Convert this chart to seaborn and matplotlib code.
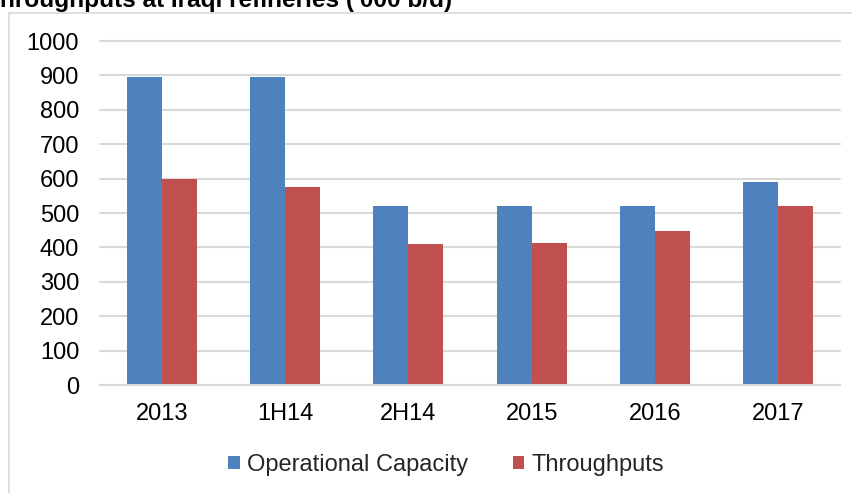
import matplotlib
matplotlib.use("Agg")
import matplotlib.pyplot as plt
from matplotlib.lines import Line2D
from matplotlib.patches import Patch
import seaborn as sns
import pandas as pd

categories = ["2013", "1H14", "2H14", "2015", "2016", "2017"]
operational_capacity = [895, 895, 520, 520, 520, 590]
throughputs = [600, 577, 411, 413, 447, 520]
series_names = ["Operational Capacity", "Throughputs"]
y_ticks = [0, 100, 200, 300, 400, 500, 600, 700, 800, 900, 1000]
title = "Throughputs at Iraqi refineries ('000 b/d)"

df = pd.DataFrame({
    "period": categories * 2,
    "series": [series_names[0]] * len(categories) + [series_names[1]] * len(categories),
    "value": operational_capacity + throughputs,
})

sns.set_theme(style="white")
plt.rcParams["font.family"] = ["Liberation Sans", "DejaVu Sans"]

W, H = 853, 493
fig = plt.figure(figsize=(W / 100, H / 100), dpi=100)
ax = fig.add_axes([100 / W, (H - 385) / H, 740 / W, 344 / H])

colors = {"Operational Capacity": "#4F81BD", "Throughputs": "#C0504D"}
sns.barplot(data=df, x="period", y="value", hue="series", order=categories,
            hue_order=series_names, palette=colors, width=0.57, gap=0,
            linewidth=0, saturation=1, ax=ax, legend=False)

ax.set_ylim(0, 1000)
ax.set_xlim(-0.5, len(categories) - 0.5)
ax.set_yticks(y_ticks)
ax.set_yticklabels([str(v) for v in y_ticks])
ax.grid(axis="y", color="#d9d9d9", linewidth=1.5)
ax.grid(axis="x", visible=False)
ax.set_axisbelow(True)
for s in ["left", "right", "top"]:
    ax.spines[s].set_visible(False)
ax.spines["bottom"].set_color("#d9d9d9")
ax.spines["bottom"].set_linewidth(1.5)
ax.tick_params(axis="y", length=0, pad=15, labelsize=17, colors="black")
ax.tick_params(axis="x", length=0, pad=13, labelsize=17, colors="black")
ax.set_xlabel("")
ax.set_ylabel("")
for gl in ax.get_ygridlines():
    gl.set_clip_on(False)

# legend
handles = [Patch(facecolor=colors[n], edgecolor="none") for n in series_names]
fig.legend(handles, series_names, loc="center", bbox_to_anchor=(446 / W, (H - 465) / H),
           ncol=2, frameon=False, fontsize=17, handlelength=0.5, handleheight=0.5,
           handletextpad=0.3, columnspacing=1.9, borderpad=0)

# title (cropped at left/top as in the reference)
fig.text(-15 / W, (H - 7) / H, title, fontsize=17.6, fontweight="bold",
         ha="left", va="baseline", color="black")

# chart frame lines
fig.add_artist(Line2D([8.5 / W, 8.5 / W], [0, (H - 12.5) / H], color="#d9d9d9", linewidth=1.2,
                      transform=fig.transFigure))
fig.add_artist(Line2D([8.5 / W, 1], [(H - 12.5) / H, (H - 12.5) / H], color="#d9d9d9", linewidth=1.2,
                      transform=fig.transFigure))

fig.savefig("out.png", dpi=100)
